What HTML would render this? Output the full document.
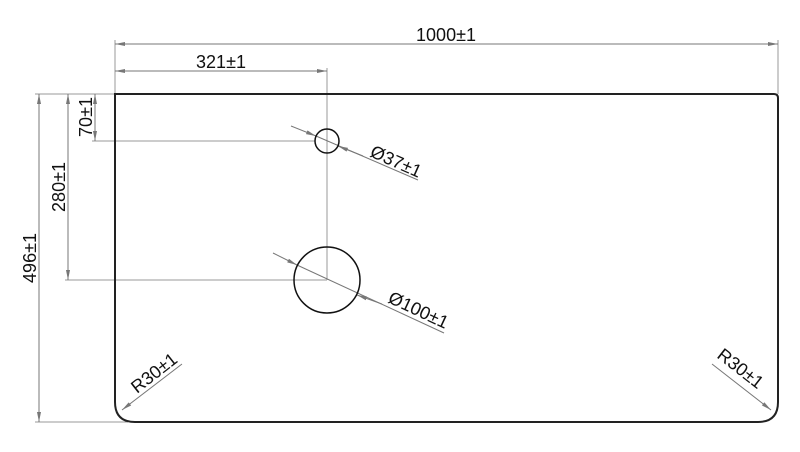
<!DOCTYPE html>
<html><head><style>body{margin:0;background:#fff}svg{display:block}</style></head><body>
<svg width="800" height="452" viewBox="0 0 800 452" xmlns="http://www.w3.org/2000/svg" font-family="Liberation Sans, sans-serif">
<defs>
<marker id="a" viewBox="0 0 10 4" refX="10" refY="2" markerWidth="12" markerHeight="4" orient="auto-start-reverse" markerUnits="userSpaceOnUse"><path d="M0,0L10,2L0,4z" fill="#777"/></marker>
</defs>
<g stroke="#999" stroke-width="1" fill="none">
<line x1="115" y1="40" x2="115" y2="94"/>
<line x1="778" y1="40" x2="778" y2="94"/>
<line x1="327" y1="68" x2="327" y2="280"/>
<line x1="35" y1="94" x2="115" y2="94"/>
<line x1="35" y1="422" x2="128" y2="422"/>
<line x1="92" y1="141" x2="315" y2="141"/>
<line x1="65" y1="280" x2="327" y2="280"/>
</g>
<g stroke="#777" stroke-width="1" fill="none">
<line x1="115" y1="44" x2="778" y2="44" marker-start="url(#a)" marker-end="url(#a)"/>
<line x1="115" y1="71" x2="327" y2="71" marker-start="url(#a)" marker-end="url(#a)"/>
<line x1="95" y1="94" x2="95" y2="141" marker-start="url(#a)" marker-end="url(#a)"/>
<line x1="68" y1="94" x2="68" y2="280" marker-start="url(#a)" marker-end="url(#a)"/>
<line x1="39" y1="94" x2="39" y2="422" marker-start="url(#a)" marker-end="url(#a)"/>
<line x1="291" y1="126" x2="316" y2="136" marker-end="url(#a)"/>
<line x1="316" y1="136" x2="418" y2="180"/>
<line x1="363" y1="156" x2="338" y2="146" marker-end="url(#a)"/>
<line x1="273" y1="253" x2="297" y2="265" marker-end="url(#a)"/>
<line x1="297" y1="265" x2="444" y2="333"/>
<line x1="382" y1="304" x2="357" y2="295" marker-end="url(#a)"/>
<line x1="182" y1="364" x2="122" y2="410" marker-end="url(#a)"/>
<line x1="712" y1="364" x2="771" y2="410" marker-end="url(#a)"/>
</g>
<path d="M115,94 H774 Q778,94 778,98 V402 Q778,422 758,422 H135 Q115,422 115,402 Z" fill="none" stroke="#222" stroke-width="2"/>
<circle cx="327" cy="141" r="12" fill="none" stroke="#111" stroke-width="1.5"/>
<circle cx="327" cy="280" r="33" fill="none" stroke="#111" stroke-width="1.5"/>
<g font-size="18" fill="#111">
<text x="446" y="41" text-anchor="middle">1000±1</text>
<text x="221" y="68" text-anchor="middle">321±1</text>
<text transform="translate(92,117) rotate(-90)" text-anchor="middle">70±1</text>
<text transform="translate(65,187) rotate(-90)" text-anchor="middle">280±1</text>
<text transform="translate(36,258) rotate(-90)" text-anchor="middle">496±1</text>
<text transform="translate(369,156) rotate(24)">Ø37±1</text>
<text transform="translate(387,302) rotate(25)">Ø100±1</text>
<text transform="translate(137,394) rotate(-38)">R30±1</text>
<text transform="translate(716,357) rotate(38)">R30±1</text>
</g>
</svg>
</body></html>
